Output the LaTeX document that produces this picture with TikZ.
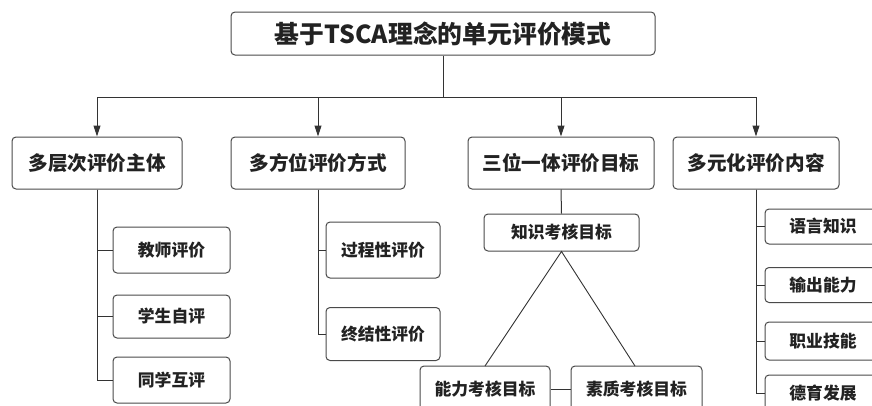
\documentclass[tikz,border=0pt]{standalone}
\usepackage{fontspec}
\newfontfamily\cjk{Noto Sans CJK SC}
\usetikzlibrary{arrows.meta}
\definecolor{ln}{HTML}{333333}
\definecolor{bd}{HTML}{4A4A4A}
\definecolor{tx}{HTML}{222222}
\tikzset{
  box/.style={draw=bd, line width=1pt, rounded corners=4pt, fill=white, text=tx,
    font=\cjk\bfseries, inner sep=0pt, align=center},
  topbox/.style={box, font=\cjk\bfseries\fontsize{24.8}{28}\selectfont},
  lone/.style={box, font=\cjk\bfseries\fontsize{19.6}{23}\selectfont},
  ltwo/.style={box, font=\cjk\bfseries\fontsize{16.8}{20}\selectfont},
  conn/.style={draw=ln, line width=1pt},
  arr/.style={conn, -{Triangle[width=7pt,length=11pt]}}
}
\begin{document}
\begin{tikzpicture}[x=1pt,y=-1pt]
\useasboundingbox (0,0) rectangle (872,405);
\clip (0,0) rectangle (872,405);
% top
\node[topbox, minimum width=424pt, minimum height=43pt] (top) at (443,33.5) {基于TSCA理念的单元评价模式};
% level 1
\node[lone, minimum width=170pt, minimum height=52pt] (A) at (97,163) {多层次评价主体};
\node[lone, minimum width=174pt, minimum height=52pt] (B) at (318,163) {多方位评价方式};
\node[lone, minimum width=186pt, minimum height=52pt] (C) at (561,163) {三位一体评价目标};
\node[lone, minimum width=166pt, minimum height=52pt] (D) at (756,163) {多元化评价内容};
\coordinate (hub) at (443,97);
\draw[conn] (top.south) -- (hub);
\draw[arr] (hub) -| (A.north);
\draw[arr] (hub) -| (B.north);
\draw[arr] (hub) -| (C.north);
\draw[arr] (hub) -| (D.north);
% A children
\node[ltwo, minimum width=117pt, minimum height=46pt] (A1) at (171.5,250) {教师评价};
\node[ltwo, minimum width=117pt, minimum height=43pt] (A2) at (171.5,316.5) {学生自评};
\node[ltwo, minimum width=117pt, minimum height=46pt] (A3) at (171.5,380) {同学互评};
\draw[conn] (A.south) |- (A3.west);
\draw[conn] (A.south) |- (A1.west);
\draw[conn] (A.south) |- (A2.west);
% B children
\node[ltwo, minimum width=114pt, minimum height=56pt] (B1) at (383,250) {过程性评价};
\node[ltwo, minimum width=114pt, minimum height=53pt] (B2) at (383,334) {终结性评价};
\draw[conn] (B.south) |- (B2.west);
\draw[conn] (B.south) |- (B1.west);
% C children
\node[ltwo, minimum width=155pt, minimum height=37pt] (C1) at (561.5,232.5) {知识考核目标};
\node[ltwo, minimum width=130pt, minimum height=46pt] (C2) at (485,389) {能力考核目标};
\node[ltwo, minimum width=131pt, minimum height=46pt] (C3) at (636.5,389) {素质考核目标};
\draw[conn] (C.south) -- (C1.north);
\coordinate (c2t) at (485,366);
\coordinate (c3t) at (635,366);
\draw[conn, line width=0.9pt] (c2t) -- (C1.south) -- (c3t);
\draw[conn] (C2.east) -- (C3.west);
% D children
\node[ltwo, minimum width=116pt, minimum height=35pt] (D1) at (823,226.5) {语言知识};
\node[ltwo, minimum width=116pt, minimum height=35pt] (D2) at (823,285) {输出能力};
\node[ltwo, minimum width=116pt, minimum height=38pt] (D3) at (823,341) {职业技能};
\node[ltwo, minimum width=116pt, minimum height=36pt] (D4) at (823,393) {德育发展};
\draw[conn] (D.south) |- (D4.west);
\draw[conn] (D.south) |- (D1.west);
\draw[conn] (D.south) |- (D2.west);
\draw[conn] (D.south) |- (D3.west);
\end{tikzpicture}
\end{document}
